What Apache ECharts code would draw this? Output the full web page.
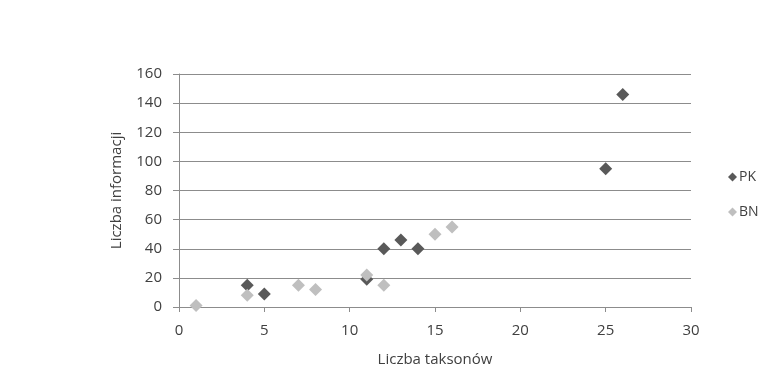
<!DOCTYPE html>
<html>
<head>
<meta charset="utf-8">
<script src="https://cdn.jsdelivr.net/npm/echarts@6/dist/echarts.min.js"></script>
<style>
html,body{margin:0;padding:0;background:#fff;}
#chart{width:776px;height:367px;}
</style>
</head>
<body>
<div id="chart"></div>
<script>
const pkX = [4, 5, 11, 12, 13, 14, 25, 26];
const pkY = [15, 9, 19, 40, 46, 40, 95, 146];
const bnX = [1, 4, 7, 8, 11, 12, 15, 16];
const bnY = [1, 8, 15, 12, 22, 15, 50, 55];
const xTicks = [0, 5, 10, 15, 20, 25, 30];
const yTicks = [0, 20, 40, 60, 80, 100, 120, 140, 160];

const font = 'Open Sans';
const txt = '#404040';
const chart = echarts.init(document.getElementById('chart'));
chart.setOption({
  animation: false,
  backgroundColor: '#fff',
  textStyle: {fontFamily: font},
  grid: {left: 179, right: 85, top: 74, bottom: 60, containLabel: false, outerBoundsMode: 'none'},
  legend: {
    orient: 'vertical', left: 723, top: 165,
    itemWidth: 9, itemHeight: 9, itemGap: 21,
    icon: 'diamond',
    textStyle: {fontFamily: font, fontSize: 14, color: txt, padding: [0,0,0,-3]},
    data: ['PK', 'BN']
  },
  xAxis: {
    type: 'value', min: xTicks[0], max: xTicks[xTicks.length-1], interval: 5,
    name: 'Liczba taksonów', nameLocation: 'middle', nameGap: 45,
    nameTextStyle: {fontFamily: font, fontSize: 15, color: txt},
    axisLine: {show: true, lineStyle: {color: '#8c8c8c', width: 1}},
    axisTick: {show: true, length: 5, lineStyle: {color: '#8c8c8c'}},
    axisLabel: {fontFamily: font, fontSize: 15, color: txt, margin: 16},
    splitLine: {show: false}
  },
  yAxis: {
    type: 'value', min: yTicks[0], max: yTicks[yTicks.length-1], interval: 20,
    name: 'Liczba informacji', nameLocation: 'middle', nameGap: 55,
    nameTextStyle: {fontFamily: font, fontSize: 15, color: txt},
    axisLine: {show: true, lineStyle: {color: '#8c8c8c', width: 1}},
    axisTick: {show: true, length: 6, lineStyle: {color: '#8c8c8c'}},
    axisLabel: {fontFamily: font, fontSize: 15, color: txt, margin: 17},
    splitLine: {show: true, lineStyle: {color: '#8c8c8c', width: 1}}
  },
  series: [
    {
      name: 'PK', type: 'scatter', symbol: 'diamond', symbolSize: 13,
      itemStyle: {color: '#595959', opacity: 1},
      data: pkX.map((x, i) => [x, pkY[i]])
    },
    {
      name: 'BN', type: 'scatter', symbol: 'diamond', symbolSize: 13,
      itemStyle: {color: '#bfbfbf', opacity: 1},
      data: bnX.map((x, i) => [x, bnY[i]])
    }
  ]
});
</script>
</body>
</html>
